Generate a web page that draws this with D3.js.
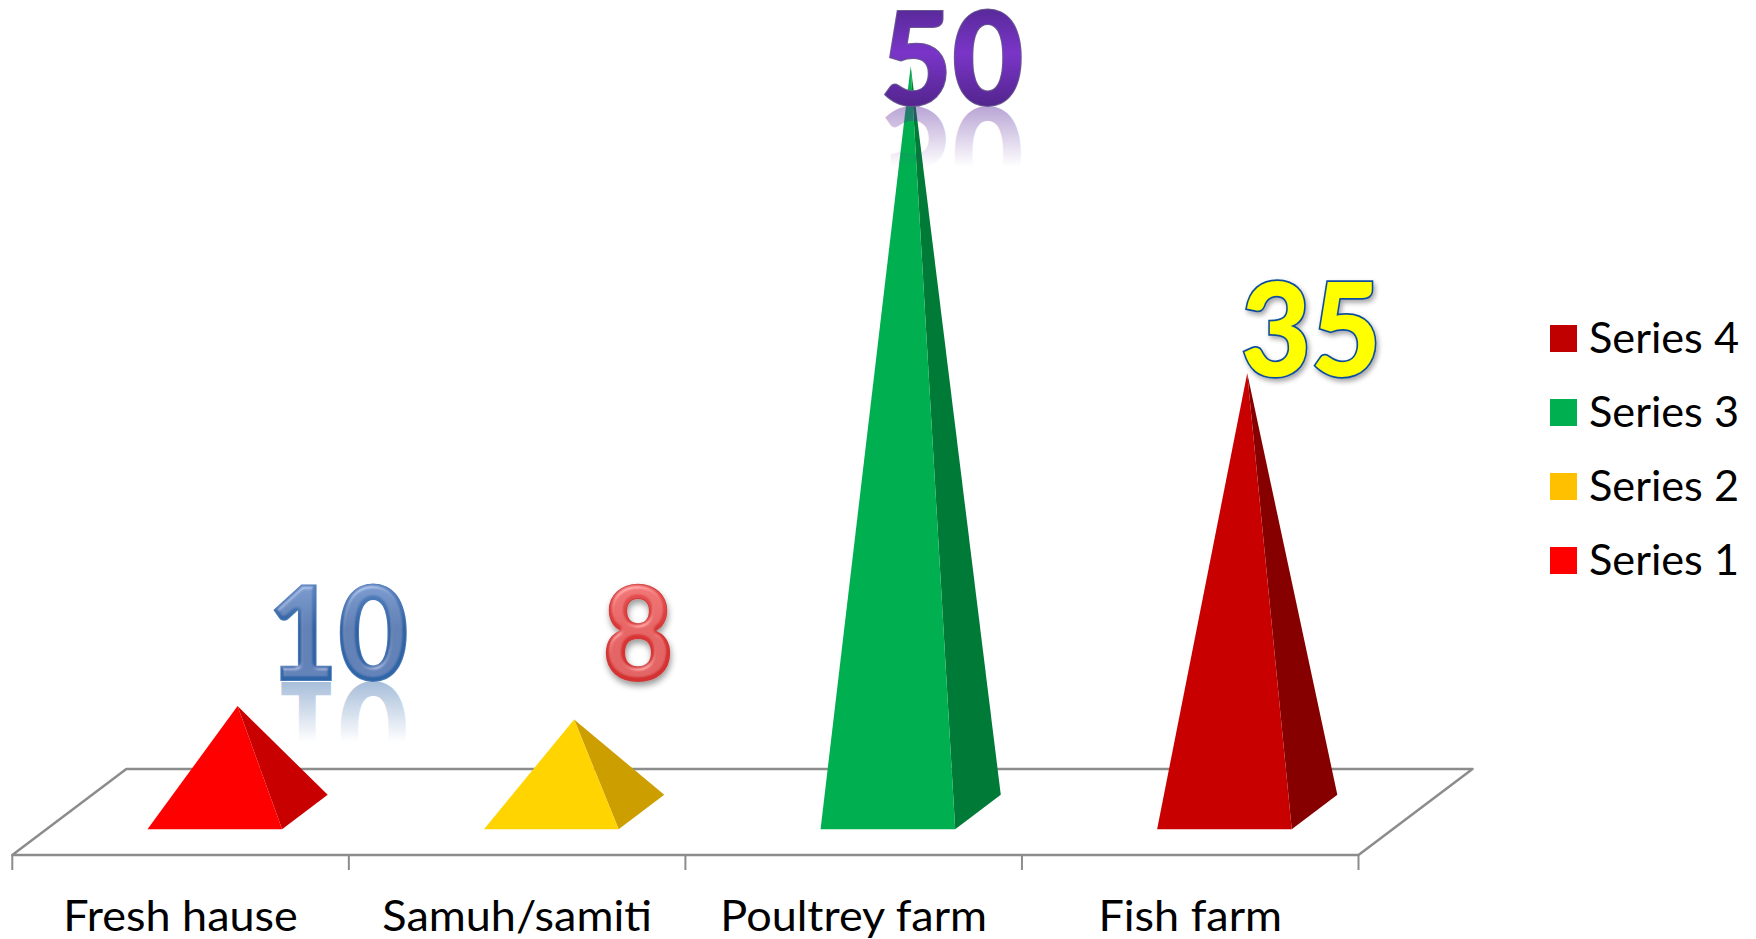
<!doctype html>
<html>
<head>
  <meta charset="utf-8" />
  <script src="https://cdnjs.cloudflare.com/ajax/libs/d3/7.8.5/d3.min.js"></script>
  <style>
  body{
    margin: 0;
    background: #fff;
    overflow: hidden;
    font-family: "Lato","Open Sans",sans-serif;
  }
  svg{ display: block; }
  .floor{ fill: #fff; stroke: #8c8c8c; stroke-width: 2.5; stroke-linejoin: round; }
  .tick{ stroke: #8c8c8c; stroke-width: 2; }
  .cat, .legend-text{ font-size: 43px; fill: #000; }
  .word{ font-size: 129px; font-weight: 900; }
  </style>
</head>
<body>
  <div id="viz"></div>
  <script>
  var categories = ["Fresh hause", "Samuh/samiti", "Poultrey farm", "Fish farm"];
  var seriesNames = ["Series 1", "Series 2", "Series 3", "Series 4"];
  // pyramid heights (the printed numbers are hand placed
  // word art in the original and are not to the same scale)
  var heights = [7.1, 6.2, 50, 29.4];
  var valueLabels = ["10", "8", "50", "35"];

  var width = 1756, height = 939;
  var frontColors = ["#ff0000", "#ffd400", "#00b050", "#c80000"];
  var sideColors = ["#c80000", "#cc9e00", "#007a37", "#860000"];
  var legendColors = ["#ff0000", "#ffc000", "#00b050", "#c00000"];

  // word art look, one per label
  var wordArt = [
    {cx: 338, base: 680, w: 141, stops: ["#5b84c0", "#2e62a2", "#2f66a8"], stroke: "#4a78b6", sw: 2, mirror: "#2e64a6", filter: "bevel"},
    {cx: 638, base: 680, w: 71, stops: ["#e65656", "#da3636", "#d43030"], stroke: "#cf3a3a", sw: 2, filter: "bevelShadow"},
    {cx: 952, base: 105, w: 143, stops: ["#5a2a9c", "#7a35c8", "#53258e"], stroke: "#6a5a90", sw: 2, mirror: "#5a2a9c"},
    {cx: 1311, base: 376, w: 140, stops: ["#ffff00", "#ffff00", "#ffff00"], stroke: "#0f4e9e", sw: 3.5, filter: "shadow"}
  ];

  var svg = d3.select("#viz").append("svg")
    .attr("width", width)
    .attr("height", height);
  var defs = svg.append("defs");

  var x = d3.scaleBand().domain(categories).range([12.3, 1358.5]);
  var y = d3.scaleLinear().domain([0, 50]).range([812, 66]);

  var floorY = 855, depthX = 114, depthY = 86;
  var xMin = x.range()[0], xMax = x.range()[1];

  // floor of the 3d box
  svg.append("polygon")
    .attr("class", "floor")
    .attr("points", [
      [xMin, floorY], [xMin + depthX, floorY - depthY],
      [xMax + depthX, floorY - depthY], [xMax, floorY]
    ].join(" "));

  var edges = categories.map(function(c){ return x(c); }).concat([xMax]);
  svg.selectAll(".tick").data(edges).enter().append("line")
    .attr("class", "tick")
    .attr("x1", function(d){ return d; })
    .attr("x2", function(d){ return d; })
    .attr("y1", floorY)
    .attr("y2", floorY + 15);

  svg.selectAll(".cat").data(categories).enter().append("text")
    .attr("class", "cat")
    .attr("x", function(d){ return x(d) + x.bandwidth() / 2; })
    .attr("y", 931)
    .attr("text-anchor", "middle")
    .text(function(d){ return d; })
    .each(function(){
      this.setAttribute("textLength", this.getComputedTextLength() * 1.046);
      this.setAttribute("lengthAdjust", "spacingAndGlyphs");
    });

  // pyramids: base sits between 30% and 70% of the floor depth, 40% of the band wide
  function corners(c, h){
    var bw = x.bandwidth() * 0.4;
    var left = x(c) + (x.bandwidth() - bw) / 2 + depthX * 0.3;
    var front = floorY - depthY * 0.3;
    return {
      fl: [left, front],
      fr: [left + bw, front],
      br: [left + bw + depthX * 0.4, floorY - depthY * 0.7],
      apex: [x(c) + x.bandwidth() / 2 + depthX * 0.5, y(h)]
    };
  }

  var pyramids = svg.selectAll(".pyramid")
    .data(categories).enter().append("g").attr("class", "pyramid");
  pyramids.append("polygon")
    .attr("fill", function(d, i){ return sideColors[i]; })
    .attr("points", function(d, i){
      var p = corners(d, heights[i]);
      return [p.fr, p.br, p.apex].join(" ");
    });
  pyramids.append("polygon")
    .attr("fill", function(d, i){ return frontColors[i]; })
    .attr("points", function(d, i){
      var p = corners(d, heights[i]);
      return [p.fl, p.fr, p.apex].join(" ");
    });

  // filters for the word art
  var shadow = defs.append("filter").attr("id", "shadow")
    .attr("x", "-20%").attr("y", "-20%").attr("width", "140%").attr("height", "140%");
  shadow.append("feDropShadow").attr("dx", 2).attr("dy", 3).attr("stdDeviation", 2.5)
    .attr("flood-color", "#000").attr("flood-opacity", 0.35);

  function bevelFilter(id, withShadow){
    var f = defs.append("filter").attr("id", id)
      .attr("x", "-20%").attr("y", "-20%").attr("width", "140%").attr("height", "140%");
    f.append("feGaussianBlur").attr("in", "SourceAlpha").attr("stdDeviation", 2).attr("result", "blur");
    var light = f.append("feSpecularLighting").attr("in", "blur")
      .attr("surfaceScale", 3).attr("specularConstant", 0.3).attr("specularExponent", 18)
      .attr("lighting-color", "#fff").attr("result", "spec");
    light.append("feDistantLight").attr("azimuth", 250).attr("elevation", 50);
    f.append("feComposite").attr("in", "spec").attr("in2", "SourceAlpha")
      .attr("operator", "in").attr("result", "specIn");
    f.append("feComposite").attr("in", "SourceGraphic").attr("in2", "specIn")
      .attr("operator", "arithmetic").attr("k1", 0).attr("k2", 1).attr("k3", 1).attr("k4", 0)
      .attr("result", "lit");
    if(withShadow){
      f.append("feDropShadow").attr("in", "lit").attr("dx", 1).attr("dy", 4)
        .attr("stdDeviation", 3).attr("flood-color", "#000").attr("flood-opacity", 0.4);
    }
  }
  bevelFilter("bevel", false);
  bevelFilter("bevelShadow", true);

  function fitWord(sel, w){
    sel.attr("textLength", w).attr("lengthAdjust", "spacingAndGlyphs");
  }

  valueLabels.forEach(function(label, i){
    var a = wordArt[i];

    var grad = defs.append("linearGradient").attr("id", "word" + i)
      .attr("gradientUnits", "userSpaceOnUse")
      .attr("x1", 0).attr("x2", 0)
      .attr("y1", a.base - 94).attr("y2", a.base);
    [0, 0.45, 1].forEach(function(o, k){
      grad.append("stop").attr("offset", o).attr("stop-color", a.stops[k]);
    });

    if(a.mirror){
      var fade = defs.append("linearGradient").attr("id", "fade" + i)
        .attr("gradientUnits", "userSpaceOnUse")
        .attr("x1", 0).attr("x2", 0)
        .attr("y1", a.base - 60).attr("y2", a.base);
      fade.append("stop").attr("offset", 0).attr("stop-color", a.mirror).attr("stop-opacity", 0);
      fade.append("stop").attr("offset", 1).attr("stop-color", a.mirror).attr("stop-opacity", 0.42);

      svg.append("g")
        .attr("transform", "translate(0," + (2 * a.base + 2) + ") scale(1,-1)")
        .append("text")
        .attr("class", "word")
        .attr("x", a.cx)
        .attr("y", a.base)
        .attr("text-anchor", "middle")
        .attr("fill", "url(#fade" + i + ")")
        .text(label)
        .call(fitWord, a.w);
    }

    var t = svg.append("text")
      .attr("class", "word")
      .attr("x", a.cx)
      .attr("y", a.base)
      .attr("text-anchor", "middle")
      .attr("fill", "url(#word" + i + ")")
      .attr("stroke", a.stroke)
      .attr("stroke-width", a.sw)
      .attr("paint-order", "stroke")
      .text(label)
      .call(fitWord, a.w);
    if(a.filter){ t.attr("filter", "url(#" + a.filter + ")"); }
  });

  // legend, last series on top
  var legendOrder = d3.range(seriesNames.length).reverse();
  var legendY = d3.scalePoint().domain(legendOrder).range([325, 547]);
  var legend = svg.selectAll(".legend").data(legendOrder).enter().append("g")
    .attr("class", "legend")
    .attr("transform", function(d){ return "translate(1550," + legendY(d) + ")"; });
  legend.append("rect")
    .attr("width", 27)
    .attr("height", 27)
    .attr("fill", function(d){ return legendColors[d]; });
  legend.append("text")
    .attr("class", "legend-text")
    .attr("x", 39)
    .attr("y", 28)
    .text(function(d){ return seriesNames[d]; })
    .each(function(){
      this.setAttribute("textLength", 150);
      this.setAttribute("lengthAdjust", "spacingAndGlyphs");
    });
  </script>
</body>
</html>
